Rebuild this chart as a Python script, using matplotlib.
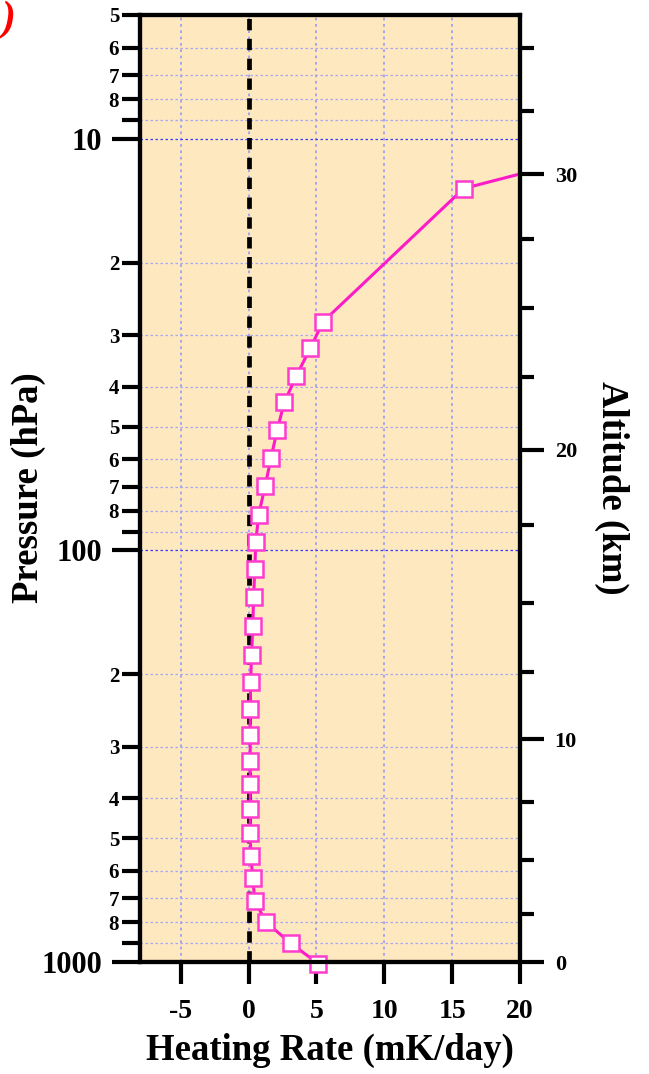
import matplotlib
matplotlib.use("Agg")
import matplotlib.pyplot as plt
import numpy as np

plt.rcParams['font.family'] = ['Liberation Serif', 'DejaVu Serif']
plt.rcParams['font.weight'] = 'bold'
plt.rcParams['axes.unicode_minus'] = False

# Heating rate profile (pressure in hPa, heating rate in mK/day)
pressure = [1010, 901, 801, 710, 626, 553, 487, 426, 370, 325, 281, 243, 209,
            179, 153, 130, 111, 95.3, 81.8, 69.7, 59.5, 51.1, 43.7, 37.7,
            32.3, 27.8, 13.2, 12.0]
heating = [5.14, 3.12, 1.29, 0.46, 0.31, 0.17, 0.12, 0.12, 0.12, 0.12, 0.12,
           0.12, 0.15, 0.22, 0.31, 0.37, 0.46, 0.53, 0.75, 1.22, 1.66, 2.10,
           2.63, 3.51, 4.54, 5.49, 15.85, 20.7]

# left axis ticks
p_major = [10, 100, 1000]
p_major_labels = ['10', '100', '1000']
p_minor = [5, 6, 7, 8, 9, 20, 30, 40, 50, 60, 70, 80, 90,
           200, 300, 400, 500, 600, 700, 800, 900]
p_minor_labels = ['5', '6', '7', '8', '', '2', '3', '4', '5', '6', '7', '8', '',
                  '2', '3', '4', '5', '6', '7', '8', '']

# right axis: altitude (km) and the pressure level it sits at
alt_km = [0, 2.5, 5, 7.5, 10, 12.5, 15, 17.5, 20, 22.5, 25, 27.5, 30, 32.5, 35]
alt_p = [1000, 764.6, 565.4, 408.9, 287.5, 197.8, 134.5, 86.5, 56.9, 37.8,
         25.7, 17.5, 12.2, 8.55, 6.03]

x_ticks = [-5, 0, 5, 10, 15, 20]

fig = plt.figure(figsize=(6.49, 10.74), dpi=100)
ax = fig.add_axes([140 / 649, 1 - 962 / 1074, 380 / 649, 947 / 1074])
ax.set_facecolor('#fde8c0')
ax.set_yscale('log')
ax.set_xlim(-8, 20)
ax.set_ylim(1000, 5)

ax.set_yticks(p_major, p_major_labels)
ax.set_yticks(p_minor, p_minor_labels, minor=True)
ax.set_xticks(x_ticks, [str(v) for v in x_ticks])

ax.tick_params(axis='y', which='major', length=20, width=3, labelsize=22, pad=7)
ax.tick_params(axis='y', which='minor', length=13, width=3, labelsize=15, pad=2)
ax.tick_params(axis='x', which='major', length=16, width=3, labelsize=20, pad=11)

# grid
ax.yaxis.grid(True, which='minor', color='#a8a8ee', linestyle=(0, (2, 2)), linewidth=0.9)
ax.yaxis.grid(True, which='major', color='#3a3aff', linestyle=(0, (2, 2)), linewidth=0.9)
ax.xaxis.grid(True, which='major', color='#a0a0ee', linestyle=(0, (1.5, 2)), linewidth=1.3)
ax.set_axisbelow(True)

for sp in ax.spines.values():
    sp.set_linewidth(3)

# zero line
ax.axvline(0, color='black', lw=3.4, linestyle=(0, (2.4, 1.8)), zorder=2)

# profile
heat = np.array(heating)
pres = np.array(pressure)
ax.plot(heat, pres, color='#ff1ac8', lw=2.2, zorder=3)
inside = heat <= 20
ax.plot(heat[inside], pres[inside], ls='none', marker='s', ms=11,
        mfc='white', mec='#ff3ccd', mew=1.8, clip_on=False, zorder=4)

# right altitude axis
ax2 = ax.twinx()
ax2.set_yscale('log')
ax2.set_ylim(1000, 5)
maj = [p for z, p in zip(alt_km, alt_p) if z % 10 == 0]
maj_lab = [str(int(z)) for z in alt_km if z % 10 == 0]
mnr = [p for z, p in zip(alt_km, alt_p) if z % 10 != 0]
ax2.set_yticks(maj, maj_lab)
ax2.set_yticks(mnr, [''] * len(mnr), minor=True)
ax2.tick_params(axis='y', which='major', length=17, width=3, labelsize=16, pad=8)
ax2.tick_params(axis='y', which='minor', length=10, width=3)
for sp in ax2.spines.values():
    sp.set_linewidth(3)

# labels
fig.text(28 / 649, 1 - 488 / 1074, 'Pressure (hPa)', rotation=90,
         ha='center', va='center', fontsize=26.5)
fig.text(612 / 649, 1 - 488 / 1074, 'Altitude (km)', rotation=270,
         ha='center', va='center', fontsize=26.5)
fig.text(330 / 649, 1 - 1050 / 1074, 'Heating Rate (mK/day)',
         ha='center', va='center', fontsize=26.5)
fig.text(1 / 649, 1 - 1 / 1074, ')', color='red', fontsize=30,
         ha='left', va='top', style='italic', fontweight='bold')

fig.savefig('out.png', dpi=100)
